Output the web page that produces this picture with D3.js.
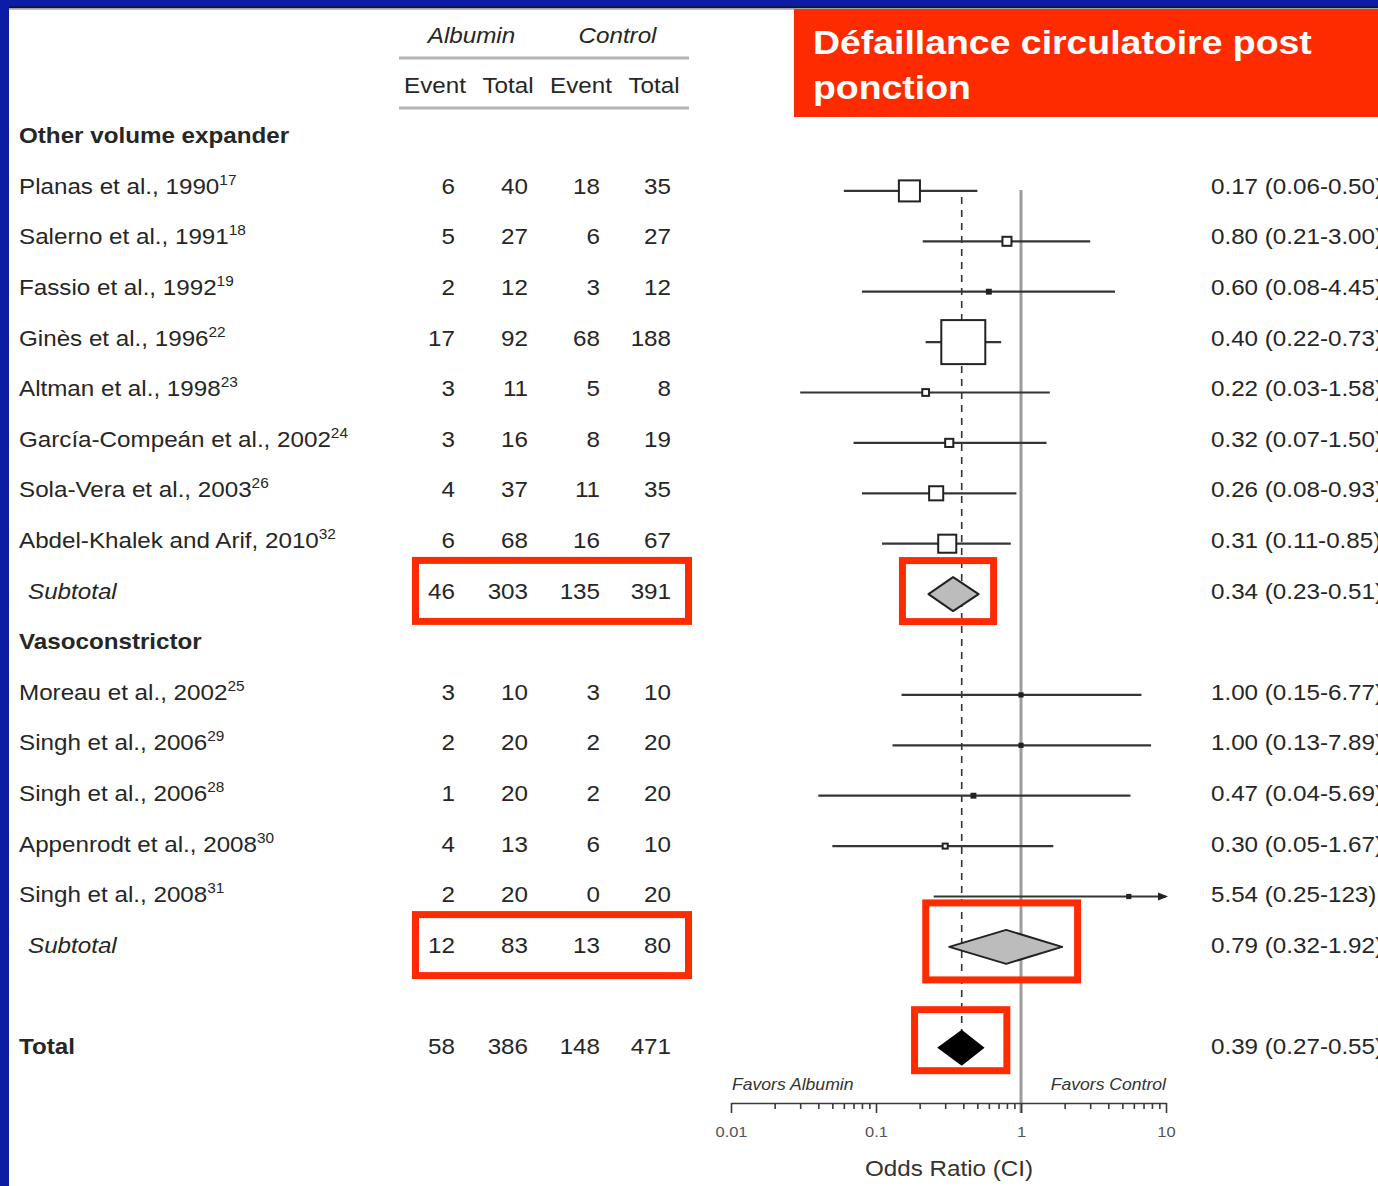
<!DOCTYPE html>
<html>
<head>
<meta charset="utf-8">
<script src="https://cdn.jsdelivr.net/npm/d3@7"></script>
<style>
  html, body { margin: 0; padding: 0; background: #0b1ca5; }
  svg { display: block; }
  text { font-family: "Liberation Sans", Arial, Helvetica, sans-serif; }
</style>
</head>
<body>
<svg id="chart" width="1378" height="1186"></svg>
<script>
// ---- Data -------------------------------------------------------------
const groupNames = ["Other volume expander", "Vasoconstrictor"];

const studyLabels = [
  "Planas et al., 1990", "Salerno et al., 1991", "Fassio et al., 1992",
  "Ginès et al., 1996", "Altman et al., 1998", "García-Compeán et al., 2002",
  "Sola-Vera et al., 2003", "Abdel-Khalek and Arif, 2010",
  "Moreau et al., 2002", "Singh et al., 2006", "Singh et al., 2006",
  "Appenrodt et al., 2008", "Singh et al., 2008"
];
const studyRefs  = ["17", "18", "19", "22", "23", "24", "26", "32", "25", "29", "28", "30", "31"];
const studyGroup = [0, 0, 0, 0, 0, 0, 0, 0, 1, 1, 1, 1, 1];

const albuminEvents = [6, 5, 2, 17, 3, 3, 4, 6, 3, 2, 1, 4, 2];
const albuminTotals = [40, 27, 12, 92, 11, 16, 37, 68, 10, 20, 20, 13, 20];
const controlEvents = [18, 6, 3, 68, 5, 8, 11, 16, 3, 2, 2, 6, 0];
const controlTotals = [35, 27, 12, 188, 8, 19, 35, 67, 10, 20, 20, 10, 20];

const oddsRatio = [0.17, 0.80, 0.60, 0.40, 0.22, 0.32, 0.26, 0.31, 1.00, 1.00, 0.47, 0.30, 5.54];
const ciLow     = [0.06, 0.21, 0.08, 0.22, 0.03, 0.07, 0.08, 0.11, 0.15, 0.13, 0.04, 0.05, 0.25];
const ciHigh    = [0.50, 3.00, 4.45, 0.73, 1.58, 1.50, 0.93, 0.85, 6.77, 7.89, 5.69, 1.67, 123];
const studyWeight = [8.7, 1.6, 0.3, 38.0, 0.9, 1.3, 3.9, 6.4, 0.2, 0.2, 0.3, 0.5, 0.2];

const subAlbuminEvents = [46, 12];
const subAlbuminTotals = [303, 83];
const subControlEvents = [135, 13];
const subControlTotals = [391, 80];
const subOddsRatio = [0.34, 0.79];
const subCiLow     = [0.23, 0.32];
const subCiHigh    = [0.51, 1.92];

const totalCounts = [58, 386, 148, 471];
const totalOddsRatio = 0.39, totalCiLow = 0.27, totalCiHigh = 0.55;

const axisTicks = [0.01, 0.1, 1, 10];
const axisTickLabels = ["0.01", "0.1", "1", "10"];
const countHeaders = ["Event", "Total", "Event", "Total"];
const armHeaders = ["Albumin", "Control"];
const titleLines = ["Défaillance circulatoire post", "ponction"];

// ---- Row layout -------------------------------------------------------
const rows = [];
groupNames.forEach((name, gi) => {
  rows.push({ type: "group", label: name });
  studyGroup.forEach((g, i) => { if (g === gi) rows.push({ type: "study", i }); });
  rows.push({ type: "sub", gi });
});
rows.push({ type: "blank" });
rows.push({ type: "total" });

const textRow = d3.scaleLinear().domain([0, 18]).range([135.5, 1046.3]);
const markRow = d3.scaleLinear().domain([0, 18]).range([140.5, 1047.7]);
const x = d3.scaleLog().domain([0.01, 10]).range([731, 1166]);
const boxSize = d3.scaleSqrt().domain([0, d3.max(studyWeight)]).range([0, 44]);

const colRight = [455, 528, 600, 671];
const headerCenters = [435, 508, 581, 654];
const INK = "#262626";
const STRETCH = 1.1;

const svg = d3.select("#chart");

// ---- Slide frame --------------------------------------------------------
svg.append("rect").attr("width", 1378).attr("height", 1186).attr("fill", "#0b1ca5");
svg.append("rect").attr("x", 9).attr("y", 8).attr("width", 1369).attr("height", 1178).attr("fill", "#fff");
svg.append("rect").attr("x", 9).attr("y", 6.5).attr("width", 1369).attr("height", 2).attr("fill", "#141414");
svg.append("rect").attr("x", 9).attr("y", 8.5).attr("width", 1369).attr("height", 1.5).attr("fill", "#bdbdbd");

function label(g, px, py, str, o = {}) {
  const t = g.append("text")
    .attr("transform", `translate(${px},${py}) scale(${STRETCH},1)`)
    .attr("dy", o.dy !== undefined ? o.dy : "0.35em")
    .attr("text-anchor", o.anchor || "start")
    .attr("fill", o.fill || INK)
    .style("font-size", (o.size || 22) + "px")
    .style("font-weight", o.weight || "normal")
    .style("font-style", o.style || "normal")
    .text(str);
  if (o.sup) {
    t.append("tspan").attr("dy", -9).style("font-size", "14px").text(o.sup);
  }
  return t;
}

// ---- Title box ----------------------------------------------------------
svg.append("rect").attr("x", 794).attr("y", 9).attr("width", 584).attr("height", 108).attr("fill", "#ff2b00");
titleLines.forEach((line, k) => {
  label(svg, 813, 54 + k * 45, line, { dy: 0, size: 34, weight: "bold", fill: "#fff" });
});

// ---- Column headers -----------------------------------------------------
const head = svg.append("g");
armHeaders.forEach((h, k) => {
  const cx = (headerCenters[2 * k] + headerCenters[2 * k + 1]) / 2;
  label(head, cx, 35, h, { anchor: "middle", style: "italic" });
});
countHeaders.forEach((h, k) => label(head, headerCenters[k], 85, h, { anchor: "middle" }));
[58, 108].forEach(yy => {
  head.append("line").attr("x1", 399).attr("x2", 689).attr("y1", yy).attr("y2", yy)
    .attr("stroke", "#b4b4b4").attr("stroke-width", 3);
});

// ---- Reference lines ----------------------------------------------------
const plot = svg.append("g");
const axisY = 1103;
plot.append("line")
  .attr("x1", x(1)).attr("x2", x(1)).attr("y1", markRow(1) - 1).attr("y2", axisY + 10)
  .attr("stroke", "#9c9c9c").attr("stroke-width", 3);
plot.append("line")
  .attr("x1", x(totalOddsRatio)).attr("x2", x(totalOddsRatio))
  .attr("y1", markRow(1) + 6).attr("y2", markRow(18))
  .attr("stroke", "#333").attr("stroke-width", 1.6).attr("stroke-dasharray", "7,6");

// ---- Table text and marks -------------------------------------------------
const fmt = v => (v >= 100 ? String(v) : v.toFixed(2));
const diamond = (or, lo, hi, cy, h) =>
  `M${x(lo)},${cy} L${x(or)},${cy - h} L${x(hi)},${cy} L${x(or)},${cy + h} Z`;

rows.forEach((r, ri) => {
  const ty = textRow(ri), my = markRow(ri);
  if (r.type === "group") {
    label(svg, 19, ty, r.label, { weight: "bold" });
  } else if (r.type === "study") {
    const i = r.i;
    label(svg, 19, ty, studyLabels[i], { sup: studyRefs[i] });
    [albuminEvents[i], albuminTotals[i], controlEvents[i], controlTotals[i]]
      .forEach((v, c) => label(svg, colRight[c], ty, v, { anchor: "end" }));
    label(svg, 1211, ty, `${fmt(oddsRatio[i])} (${fmt(ciLow[i])}-${fmt(ciHigh[i])})`);

    const [d0, d1] = x.domain();
    const clippedHi = Math.min(ciHigh[i], d1);
    plot.append("line")
      .attr("x1", x(Math.max(ciLow[i], d0))).attr("x2", x(clippedHi))
      .attr("y1", my).attr("y2", my)
      .attr("stroke", "#353535").attr("stroke-width", 2.2);
    if (ciHigh[i] > d1) {
      const ax = x(d1);
      plot.append("path")
        .attr("d", `M${ax + 2},${my} L${ax - 8},${my - 4} L${ax - 8},${my + 4} Z`)
        .attr("fill", "#222");
    }
    const s = Math.max(boxSize(studyWeight[i]), 3);
    plot.append("rect")
      .attr("x", x(oddsRatio[i]) - s / 2).attr("y", my - s / 2)
      .attr("width", s).attr("height", s)
      .attr("fill", s < 5 ? "#222" : "#fff")
      .attr("stroke", "#222").attr("stroke-width", 2);
  } else if (r.type === "sub") {
    const gi = r.gi;
    label(svg, 28, ty, "Subtotal", { style: "italic" });
    [subAlbuminEvents[gi], subAlbuminTotals[gi], subControlEvents[gi], subControlTotals[gi]]
      .forEach((v, c) => label(svg, colRight[c], ty, v, { anchor: "end" }));
    label(svg, 1211, ty, `${fmt(subOddsRatio[gi])} (${fmt(subCiLow[gi])}-${fmt(subCiHigh[gi])})`);
    plot.append("path")
      .attr("d", diamond(subOddsRatio[gi], subCiLow[gi], subCiHigh[gi], my, 17))
      .attr("fill", "#bcbcbc").attr("stroke", "#222").attr("stroke-width", 2)
      .attr("stroke-linejoin", "round");
  } else if (r.type === "total") {
    label(svg, 19, ty, "Total", { weight: "bold" });
    totalCounts.forEach((v, c) => label(svg, colRight[c], ty, v, { anchor: "end" }));
    label(svg, 1211, ty, `${fmt(totalOddsRatio)} (${fmt(totalCiLow)}-${fmt(totalCiHigh)})`);
    plot.append("path")
      .attr("d", diamond(totalOddsRatio, totalCiLow, totalCiHigh, my, 17))
      .attr("fill", "#000").attr("stroke", "#000").attr("stroke-width", 1.5);
  }
});

// ---- Axis ---------------------------------------------------------------
const minorTicks = [];
for (let k = 0; k < axisTicks.length - 1; k++) {
  for (let m = 2; m <= 9; m++) minorTicks.push(axisTicks[k] * m);
}
const axisG = svg.append("g").attr("transform", `translate(0,${axisY})`);
axisG.append("g")
  .call(d3.axisBottom(x).tickValues(minorTicks).tickSize(6).tickFormat(() => ""))
  .call(g => g.select(".domain").remove());
axisG.append("g")
  .call(d3.axisBottom(x).tickValues(axisTicks).tickSize(10).tickSizeOuter(0).tickPadding(13)
    .tickFormat((d, k) => axisTickLabels[k]));
axisG.selectAll("line, path").attr("stroke", "#3a3a3a").attr("stroke-width", 1.6);
axisG.selectAll("text")
  .attr("transform", `scale(${STRETCH},1)`)
  .attr("fill", "#555")
  .style("font-size", "15px")
  .style("font-family", '"Liberation Sans", Arial, sans-serif');

label(svg, x(0.01) + 1, 1084, "Favors Albumin", { size: 16, style: "italic", fill: "#333" });
label(svg, x(10), 1084, "Favors Control", { size: 16, style: "italic", fill: "#333", anchor: "end" });
label(svg, (x(0.01) + x(10)) / 2 + 0.5, 1168, "Odds Ratio (CI)", { anchor: "middle", fill: "#333" });

// ---- Highlight boxes around subtotal and total results --------------------
const hl = svg.append("g").attr("fill", "none").attr("stroke", "#ff2b00").attr("stroke-width", 7);
const hlRect = (x0, x1, y0, y1) =>
  hl.append("rect").attr("x", x0).attr("y", y0).attr("width", x1 - x0).attr("height", y1 - y0);
const numBoxL = 415.5, numBoxR = 688.5;
hlRect(numBoxL, numBoxR, textRow(9) - 30.5, textRow(9) + 30.5);
hlRect(numBoxL, numBoxR, textRow(16) - 30.5, textRow(16) + 30.5);
hlRect(x(subCiLow[0]) - 26, x(subCiHigh[0]) + 15, markRow(9) - 33.5, markRow(9) + 27.5);
hlRect(x(subCiLow[1]) - 23.5, x(subCiHigh[1]) + 15.5, markRow(16) - 44, markRow(16) + 33);
hlRect(x(totalCiLow) - 24, x(totalCiHigh) + 23.5, markRow(18) - 38, markRow(18) + 23);
</script>
</body>
</html>
